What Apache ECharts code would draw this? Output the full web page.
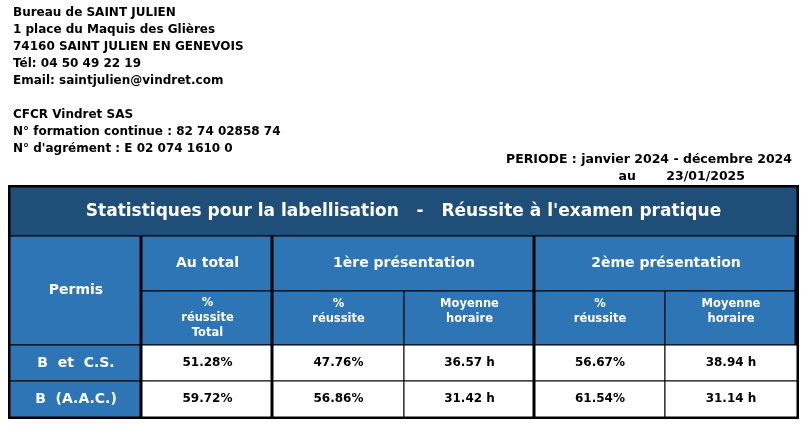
<!DOCTYPE html>
<html><head><meta charset="utf-8">
<script src="https://cdn.jsdelivr.net/npm/echarts@6/dist/echarts.min.js"></script>
<style>html,body{margin:0;padding:0;background:#fff}#c{width:807px;height:428px}</style>
</head><body><div id="c"></div>
<script>
const infoLines = ["Bureau de SAINT JULIEN","1 place du Maquis des Glières","74160 SAINT JULIEN EN GENEVOIS","Tél: 04 50 49 22 19","Email: saintjulien@vindret.com","","CFCR Vindret SAS","N° formation continue : 82 74 02858 74","N° d'agrément : E 02 074 1610 0"];
const periodLines = ["PERIODE : janvier 2024 - décembre 2024","au       23/01/2025"];
const title = "Statistiques pour la labellisation   -   Réussite à l'examen pratique";
const groupHeaders = ["Au total","1ère présentation","2ème présentation"];
const subHeaders = ["%\nréussite\nTotal","%\nréussite","Moyenne\nhoraire","%\nréussite","Moyenne\nhoraire"];
const categories = ["B  et  C.S.","B  (A.A.C.)"];
const values = [
  ["51.28%","47.76%","36.57 h","56.67%","38.94 h"],
  ["59.72%","56.86%","31.42 h","61.54%","31.14 h"]
];

const F = "DejaVu Sans, Verdana, sans-serif";
const dark = "#1f4e79", mid = "#2e75b6";
const colX = [10,142,273,404,535,665,797];
const rowY = [187,236,291,345,381,417];
const g = [];
function rect(x,y,w,h,fill){g.push({type:'rect',shape:{x,y,width:w,height:h},style:{fill,stroke:'#000',lineWidth:1}});}
function text(x,y,t,size,color,align,lh){g.push({type:'text',x,y,style:{text:t,font:`bold ${size}px ${F}`,fill:color,align:align||'center',verticalAlign:'middle',lineHeight:lh||size+3}});}
infoLines.forEach((t,i)=>text(13,13+i*17,t,12,'#000','left'));
text(792,160,periodLines[0],12.5,'#000','right');
text(745,177,periodLines[1],12.5,'#000','right');
g.push({type:'rect',shape:{x:8,y:185,width:791,height:234},style:{fill:'#000'}});
rect(colX[0],rowY[0],colX[6]-colX[0],rowY[1]-rowY[0],dark);
text((colX[0]+colX[6])/2,(rowY[0]+rowY[1])/2,title,17,'#fff');
rect(colX[0],rowY[1],colX[1]-colX[0]-2,rowY[3]-rowY[1],mid);
text((colX[0]+colX[1])/2,(rowY[1]+rowY[3])/2,"Permis",14,'#fff');
const spans=[[1,2],[2,4],[4,6]];
spans.forEach((s,i)=>{rect(colX[s[0]],rowY[1],colX[s[1]]-colX[s[0]]-2,rowY[2]-rowY[1],mid);
  text((colX[s[0]]+colX[s[1]])/2,(rowY[1]+rowY[2])/2,groupHeaders[i],14,'#fff');});
subHeaders.forEach((t,i)=>{rect(colX[i+1],rowY[2],colX[i+2]-colX[i+1]-(i==0||i==2||i==4?2:0),rowY[3]-rowY[2],mid);
  text((colX[i+1]+colX[i+2])/2,(rowY[2]+rowY[3])/2+(i==0?0:-6),t,11.5,'#fff','center',15);});
categories.forEach((c,r)=>{
  rect(colX[0],rowY[3+r],colX[1]-colX[0]-2,rowY[4+r]-rowY[3+r],mid);
  text((colX[0]+colX[1])/2,(rowY[3+r]+rowY[4+r])/2,c,14,'#fff');
  values[r].forEach((v,i)=>{rect(colX[i+1],rowY[3+r],colX[i+2]-colX[i+1]-(i==0||i==2?2:0),rowY[4+r]-rowY[3+r],'#fff');
    text((colX[i+1]+colX[i+2])/2,(rowY[3+r]+rowY[4+r])/2,v,12,'#000');});
});
const chart = echarts.init(document.getElementById('c'));
chart.setOption({animation:false,graphic:g});
</script></body></html>
